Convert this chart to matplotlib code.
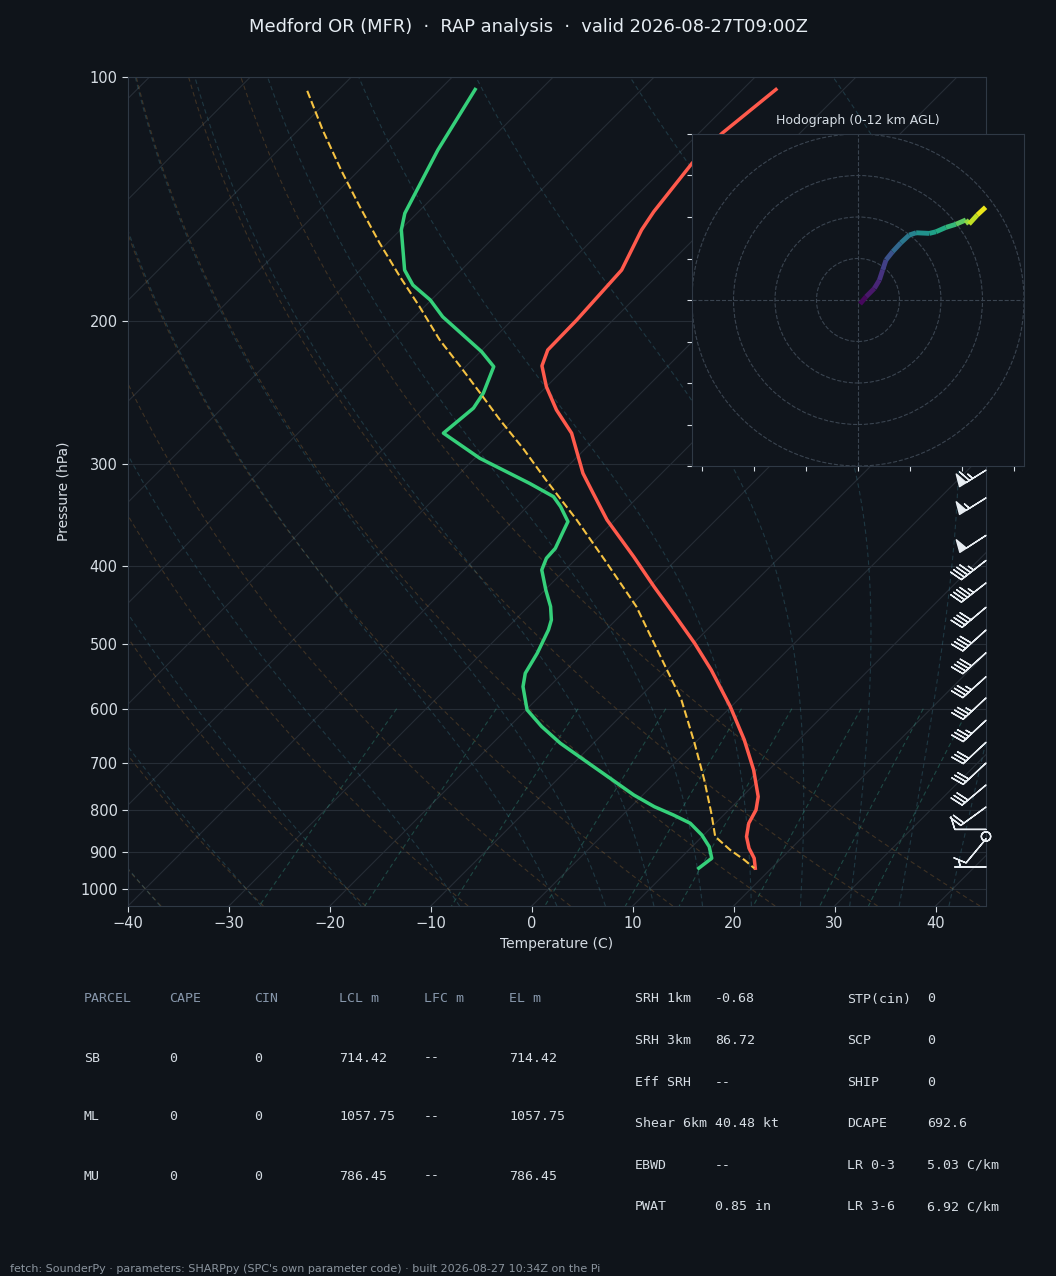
import numpy as np
import matplotlib
matplotlib.use('Agg')
import matplotlib.pyplot as plt
import matplotlib.transforms as mtransforms
from matplotlib.collections import LineCollection
from matplotlib.patches import Circle

# ---- sounding (hPa, degC) ----
t_pres = [103.6, 117.3, 127.7, 146.5, 154.3, 172.9, 177.9, 199.2, 216.9, 226.9, 240.7,
          257.1, 274.6, 307.7, 325.7, 351.2, 389.9, 424.6, 462.1, 498.3, 537.6, 596.3,
          655.5, 713.8, 770.0, 799.6, 830.3, 862.4, 891.3, 916.9, 943.3]
t_temp = [-56.7, -57.7, -57.7, -56.7, -56.1, -54.1, -54.0, -53.6, -53.5, -52.5, -50.0,
          -46.7, -42.9, -37.8, -34.8, -30.8, -24.5, -19.5, -14.4, -9.9, -5.6, -0.1,
          4.6, 8.5, 11.6, 12.7, 13.3, 14.4, 15.8, 17.3, 18.4]

td_pres = [103.6, 123.0, 147.2, 154.3, 172.9, 180.4, 188.2, 197.4, 217.9, 227.4, 245.2,
           255.8, 274.6, 294.9, 316.6, 328.8, 338.3, 352.9, 364.7, 380.7, 391.6, 404.8,
           428.6, 449.1, 466.4, 479.8, 512.6, 542.6, 563.6, 601.9, 631.1, 661.7, 700.4,
           730.8, 766.3, 792.2, 811.0, 830.3, 858.3, 887.3, 917.0, 943.3]
td_temp = [-86.5, -84.2, -81.2, -79.9, -75.6, -73.3, -70.1, -67.2, -59.9, -57.2, -55.6,
           -55.1, -55.6, -49.5, -42.1, -38.4, -36.7, -34.5, -33.9, -33.1, -33.0, -32.3,
           -29.9, -27.8, -26.4, -25.7, -24.5, -23.7, -22.6, -19.9, -16.8, -13.3, -8.5,
           -4.9, -0.9, 2.3, 5.0, 7.5, 9.8, 11.7, 13.1, 12.8]

parcel_pres = [104.0, 116.2, 130.2, 144.5, 160.3, 176.2, 191.8, 210.8, 227.4, 245.2, 264.5,
               287.2, 313.6, 351.2, 397.2, 449.1, 493.7, 542.6, 585.1, 661.7, 734.3, 807.1,
               862.4, 895.6, 921.4, 943.3]
parcel_temp = [-103.0, -97.6, -91.8, -86.3, -80.7, -75.4, -70.5, -65.2, -60.5, -55.9, -51.3,
               -46.1, -40.8, -33.8, -26.5, -19.3, -14.4, -9.5, -5.6, 0.0, 4.6, 8.6,
               11.3, 14.1, 16.5, 18.3]

# wind barbs (kt)
barb_pres = [305, 330, 367, 394, 420, 450, 480, 512, 548, 582, 620, 660, 700, 745, 793,
             845, 862, 868, 940]
barb_u = [55.1, 46.6, 41.9, 35.5, 35.5, 30.6, 29.7, 29.7, 26.0, 25.6, 25.6, 21.9, 21.9,
          23.0, 16.2, 10.0, 1.0, 6.4, 5.0]
barb_v = [34.4, 29.1, 27.2, 27.7, 27.7, 25.7, 26.8, 26.8, 23.4, 23.9, 23.9, 20.5, 20.5,
          19.3, 11.8, 0.0, 1.0, 7.7, 0.0]

# hodograph (kt) and height (km AGL)
hodo_u = [1.0, 3.9, 7.9, 10.3, 11.9, 13.5, 16.7, 20.7, 24.7, 28.0, 34.4, 37.6, 42.4, 47.2,
          52.0, 53.5, 57.5, 61.5]
hodo_v = [-1.9, 1.6, 5.6, 9.6, 14.5, 19.3, 23.3, 27.6, 31.3, 32.4, 32.1, 32.9, 35.0, 36.5,
          38.6, 36.6, 41.0, 44.7]
hodo_z = [0.0, 0.5, 1.0, 1.5, 2.0, 2.5, 3.5, 4.5, 5.0, 5.5, 6.5, 7.0, 7.5, 8.5, 9.5, 10.5,
          11.2, 12.0]

parcel_cols = ['PARCEL', 'CAPE', 'CIN', 'LCL m', 'LFC m', 'EL m']
parcel_rows = [['SB', '0', '0', '714.42', '--', '714.42'],
               ['ML', '0', '0', '1057.75', '--', '1057.75'],
               ['MU', '0', '0', '786.45', '--', '786.45']]
params_left = [('SRH 1km', '-0.68'), ('SRH 3km', '86.72'), ('Eff SRH', '--'),
               ('Shear 6km', '40.48 kt'), ('EBWD', '--'), ('PWAT', '0.85 in')]
params_right = [('STP(cin)', '0'), ('SCP', '0'), ('SHIP', '0'), ('DCAPE', '692.6'),
                ('LR 0-3', '5.03 C/km'), ('LR 3-6', '6.92 C/km')]

BG = '#0f141a'
AXBG = '#10151c'
EDGE = '#2f3945'
TXT = '#d6dde4'
GRID = '#262d36'

plt.rcParams['font.family'] = 'DejaVu Sans'
fig = plt.figure(figsize=(10.56, 12.76), dpi=100, facecolor=BG)
ax = fig.add_axes([128 / 1056, 1 - 906 / 1276, 858 / 1056, 829 / 1276])
ax.set_facecolor(AXBG)
ax.set_yscale('log')
ax.set_xlim(-40, 45)
ax.set_ylim(1050, 100)

# skew the data 45 degrees about the bottom of the axes
ratio = (829 / 1276 * 12.76) / (858 / 1056 * 10.56)
skew = (ax.transData + ax.transAxes.inverted()
        + mtransforms.Affine2D(np.array([[1, ratio, 0], [0, 1, 0], [0, 0, 1]]))
        + ax.transAxes)

# background lines
pgrid = np.linspace(1050, 100, 120)
for t in range(-130, 50, 10):
    ax.plot([t, t], [1050, 100], transform=skew, color=GRID, lw=0.8, zorder=1)
for p in [100, 200, 300, 400, 500, 600, 700, 800, 900, 1000]:
    ax.axhline(p, color=GRID, lw=0.8, zorder=1)

for t0 in np.arange(-40, 46, 10):
    tt = (t0 + 273.15) * (pgrid / 1000.0) ** 0.2857 - 273.15
    ax.plot(tt, pgrid, transform=skew, color='#c8873a', alpha=0.25, lw=0.8, ls=(0, (4, 3)), zorder=1)


def sat_mixr(p, tc):
    es = 6.112 * np.exp(17.67 * tc / (tc + 243.5))
    return 0.622 * es / (p - es)


def dtdp(p, T):
    rs = sat_mixr(p, T - 273.15)
    num = 287.04 * T + 2.501e6 * rs
    den = 1005.7 + (2.501e6 ** 2 * rs * 0.622) / (287.04 * T ** 2)
    return num / den / p


def moist_path(t0, plist):
    T = np.array(t0, dtype=float) + 273.15
    out = [T.copy()]
    for p1, p2 in zip(plist[:-1], plist[1:]):
        h = p2 - p1
        k1 = dtdp(p1, T)
        k2 = dtdp(p1 + h / 2, T + h / 2 * k1)
        k3 = dtdp(p1 + h / 2, T + h / 2 * k2)
        k4 = dtdp(p2, T + h * k3)
        T = T + h / 6 * (k1 + 2 * k2 + 2 * k3 + k4)
        out.append(T.copy())
    return np.array(out) - 273.15


moist_t0 = np.concatenate((np.arange(-40, 0, 10), np.arange(0, 46, 5)))
p_up = np.linspace(1000, 100, 181)
p_dn = np.linspace(1000, 1050, 6)
t_up = moist_path(moist_t0, p_up)
t_dn = moist_path(moist_t0, p_dn)
pm = np.concatenate((p_dn[::-1], p_up[1:]))
tm = np.concatenate((t_dn[::-1], t_up[1:]))
for i in range(len(moist_t0)):
    ax.plot(tm[:, i], pm, transform=skew, color='#4a9fb5', alpha=0.25, lw=0.8, ls=(0, (4, 3)), zorder=1)

wmix = np.array([0.4, 1, 2, 4, 7, 10, 16, 24, 32]) / 1000.0
pmix = np.linspace(600, 1050, 30)
for w in wmix:
    e = pmix * w / (0.622 + w)
    ln = np.log(e / 6.112)
    td = 243.5 * ln / (17.67 - ln)
    ax.plot(td, pmix, transform=skew, color='#3dbfa0', alpha=0.3, lw=0.8, ls=(0, (4, 3)), zorder=1)

# profiles
ax.plot(t_temp, t_pres, transform=skew, color='#ff5a4c', lw=2.5, zorder=5)
ax.plot(td_temp, td_pres, transform=skew, color='#35d07a', lw=2.5, zorder=5)
ax.plot(parcel_temp, parcel_pres, transform=skew, color='#f5c242', lw=1.5, ls='--', zorder=5)

bt = mtransforms.blended_transform_factory(ax.transAxes, ax.transData)
ax.barbs(np.ones(len(barb_pres)), barb_pres, barb_u, barb_v, transform=bt, length=6.7,
         color='#e8edf2', lw=1.0, clip_on=False, zorder=6)

ax.set_yticks([100, 200, 300, 400, 500, 600, 700, 800, 900, 1000])
ax.set_yticklabels(['100', '200', '300', '400', '500', '600', '700', '800', '900', '1000'])
ax.minorticks_off()
ax.set_xticks(range(-40, 41, 10))
ax.tick_params(colors=TXT, labelsize=10.5, length=4)
for s in ax.spines.values():
    s.set_color(EDGE)
ax.set_xlabel('Temperature (C)', color=TXT, fontsize=10)
ax.set_ylabel('Pressure (hPa)', color=TXT, fontsize=10, labelpad=7)
ax.set_xlim(-40, 45)
ax.set_ylim(1050, 100)

fig.text(0.5, 1 - 27 / 1276, 'Medford OR (MFR)  \u00b7  RAP analysis  \u00b7  valid 2026-08-27T09:00Z',
         ha='center', va='center', color='#e6edf3', fontsize=12.9)

# hodograph inset
hax = fig.add_axes([692 / 1056, 1 - 466 / 1276, 332 / 1056, 332 / 1276])
hax.set_facecolor(AXBG)
hax.set_xlim(-80, 80)
hax.set_ylim(-80, 80)
for r in (20, 40, 60, 80):
    hax.add_patch(Circle((0, 0), r, fill=False, ls='--', lw=0.8, color='#3a4450'))
hax.axhline(0, color='#3a4450', ls='--', lw=0.8)
hax.axvline(0, color='#3a4450', ls='--', lw=0.8)
pts = np.array([hodo_u, hodo_v]).T.reshape(-1, 1, 2)
segs = np.concatenate([pts[:-1], pts[1:]], axis=1)
zmid = (np.array(hodo_z[:-1]) + np.array(hodo_z[1:])) / 2
lc = LineCollection(segs, cmap='viridis', norm=plt.Normalize(0, 12), lw=3.5)
lc.set_array(zmid)
hax.add_collection(lc)
hax.set_xticks([-75, -50, -25, 0, 25, 50, 75])
hax.set_yticks(range(-80, 81, 20))
hax.tick_params(colors=TXT, length=3.5, labelleft=False, labelbottom=False)
for s in hax.spines.values():
    s.set_color(EDGE)
hax.set_title('Hodograph (0-12 km AGL)', color=TXT, fontsize=9, pad=7)

# parameter tables
mono = 'DejaVu Sans Mono'
for j, c in enumerate(parcel_cols):
    fig.text((84 + 85 * j) / 1056, 1 - 999 / 1276, c, family=mono, fontsize=9.5,
             color='#8797ab', va='center')
for i, row in enumerate(parcel_rows):
    for j, c in enumerate(row):
        fig.text((84 + 85 * j) / 1056, 1 - (1058 + 59 * i) / 1276, c, family=mono,
                 fontsize=9.5, color=TXT, va='center')
for i, (a, b) in enumerate(params_left):
    y = 1 - (999 + 41.6 * i) / 1276
    fig.text(635 / 1056, y, a, family=mono, fontsize=9.5, color=TXT, va='center')
    fig.text(715 / 1056, y, b, family=mono, fontsize=9.5, color=TXT, va='center')
for i, (a, b) in enumerate(params_right):
    y = 1 - (999 + 41.6 * i) / 1276
    fig.text(847 / 1056, y, a, family=mono, fontsize=9.5, color=TXT, va='center')
    fig.text(927 / 1056, y, b, family=mono, fontsize=9.5, color=TXT, va='center')

fig.text(10 / 1056, 1 - 1269 / 1276,
         "fetch: SounderPy \u00b7 parameters: SHARPpy (SPC's own parameter code) \u00b7 built 2026-08-27 10:34Z on the Pi",
         fontsize=8, color='#8b949e', va='center')

fig.savefig('out.png', dpi=100, facecolor=BG)
